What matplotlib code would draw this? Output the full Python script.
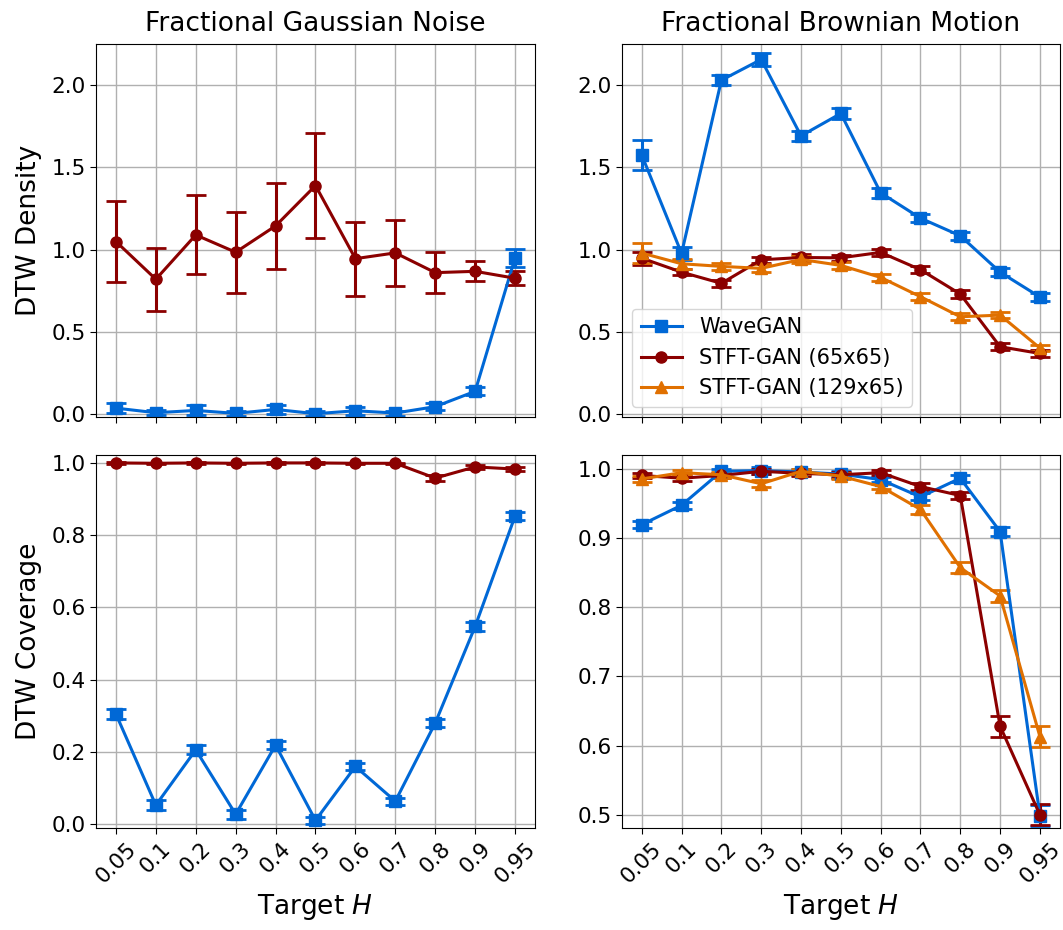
import numpy as np
import matplotlib
matplotlib.use("Agg")
import matplotlib.pyplot as plt
from matplotlib.lines import Line2D

# Target Hurst exponents (categorical x axis)
h_labels = ["0.05", "0.1", "0.2", "0.3", "0.4", "0.5", "0.6", "0.7", "0.8", "0.9", "0.95"]

# --- Fractional Gaussian Noise: DTW density ---
fgn_density_wavegan = [0.038, 0.010, 0.024, 0.006, 0.030, 0.004, 0.022, 0.008, 0.047, 0.140, 0.950]
fgn_density_wavegan_err = [0.030, 0.015, 0.030, 0.015, 0.030, 0.015, 0.025, 0.015, 0.020, 0.025, 0.053]
fgn_density_stft65 = [1.050, 0.821, 1.090, 0.985, 1.145, 1.390, 0.946, 0.981, 0.861, 0.869, 0.827]
fgn_density_stft65_err = [0.245, 0.190, 0.240, 0.245, 0.260, 0.320, 0.225, 0.200, 0.125, 0.060, 0.042]

# --- Fractional Brownian Motion: DTW density ---
fbm_density_wavegan = [1.575, 0.978, 2.030, 2.156, 1.692, 1.828, 1.346, 1.192, 1.085, 0.864, 0.713]
fbm_density_wavegan_err = [0.092, 0.040, 0.030, 0.040, 0.030, 0.035, 0.030, 0.025, 0.025, 0.025, 0.025]
fbm_density_stft65 = [0.949, 0.864, 0.796, 0.939, 0.953, 0.951, 0.984, 0.879, 0.731, 0.411, 0.370]
fbm_density_stft65_err = [0.040, 0.020, 0.020, 0.020, 0.020, 0.020, 0.020, 0.020, 0.025, 0.020, 0.020]
fbm_density_stft129 = [0.980, 0.915, 0.899, 0.887, 0.941, 0.905, 0.832, 0.715, 0.593, 0.603, 0.403]
fbm_density_stft129_err = [0.060, 0.030, 0.020, 0.025, 0.020, 0.020, 0.020, 0.020, 0.020, 0.020, 0.020]

# --- Fractional Gaussian Noise: DTW coverage ---
fgn_coverage_wavegan = [0.305, 0.053, 0.206, 0.028, 0.219, 0.011, 0.160, 0.064, 0.280, 0.547, 0.852]
fgn_coverage_wavegan_err = [0.015, 0.013, 0.012, 0.012, 0.012, 0.010, 0.010, 0.010, 0.012, 0.012, 0.012]
fgn_coverage_stft65 = [0.999, 0.998, 0.999, 0.998, 0.999, 0.999, 0.998, 0.998, 0.957, 0.988, 0.982]
fgn_coverage_stft65_err = [0.002, 0.002, 0.002, 0.002, 0.002, 0.002, 0.002, 0.002, 0.008, 0.005, 0.005]

# --- Fractional Brownian Motion: DTW coverage ---
fbm_coverage_wavegan = [0.919, 0.947, 0.996, 0.997, 0.995, 0.992, 0.984, 0.959, 0.986, 0.909, 0.499]
fbm_coverage_wavegan_err = [0.005, 0.005, 0.004, 0.005, 0.004, 0.004, 0.004, 0.005, 0.005, 0.007, 0.015]
fbm_coverage_stft65 = [0.990, 0.986, 0.990, 0.996, 0.993, 0.991, 0.994, 0.974, 0.961, 0.628, 0.500]
fbm_coverage_stft65_err = [0.004, 0.004, 0.004, 0.004, 0.004, 0.004, 0.004, 0.005, 0.005, 0.015, 0.015]
fbm_coverage_stft129 = [0.985, 0.994, 0.991, 0.978, 0.996, 0.989, 0.974, 0.941, 0.857, 0.816, 0.613]
fbm_coverage_stft129_err = [0.004, 0.004, 0.004, 0.005, 0.004, 0.004, 0.004, 0.006, 0.008, 0.008, 0.015]

series_names = ["WaveGAN", "STFT-GAN (65x65)", "STFT-GAN (129x65)"]
colors = ["#0068d6", "#8b0000", "#e07000"]
markers = ["s", "o", "^"]

plt.rcParams["font.family"] = "DejaVu Sans"

fig = plt.figure(figsize=(10.63, 9.3), dpi=100)
ax_tl = fig.add_axes([0.0903, 0.5516, 0.413, 0.4011])
ax_tr = fig.add_axes([0.585, 0.5516, 0.412, 0.4011])
ax_bl = fig.add_axes([0.0903, 0.1097, 0.413, 0.4011])
ax_br = fig.add_axes([0.585, 0.1097, 0.412, 0.4011])

x = np.arange(len(h_labels))

LW = 2.2
MS = 8


def draw(ax, ys, errs, idxs):
    for y, e, i in zip(ys, errs, idxs):
        ax.errorbar(x, y, yerr=e, color=colors[i], marker=markers[i],
                    markersize=MS, linewidth=LW, elinewidth=LW,
                    capsize=7, capthick=2, label=series_names[i])
    ax.grid(True, color="#b0b0b0", linewidth=1.0)
    ax.set_axisbelow(True)
    ax.set_xlim(-0.5, 10.5)
    ax.set_xticks(x)
    ax.tick_params(labelsize=15.5, length=4)


draw(ax_tl, [fgn_density_wavegan, fgn_density_stft65],
     [fgn_density_wavegan_err, fgn_density_stft65_err], [0, 1])
draw(ax_tr, [fbm_density_wavegan, fbm_density_stft65, fbm_density_stft129],
     [fbm_density_wavegan_err, fbm_density_stft65_err, fbm_density_stft129_err], [0, 1, 2])
draw(ax_bl, [fgn_coverage_wavegan, fgn_coverage_stft65],
     [fgn_coverage_wavegan_err, fgn_coverage_stft65_err], [0, 1])
draw(ax_br, [fbm_coverage_wavegan, fbm_coverage_stft65, fbm_coverage_stft129],
     [fbm_coverage_wavegan_err, fbm_coverage_stft65_err, fbm_coverage_stft129_err], [0, 1, 2])

for ax in (ax_tl, ax_tr):
    ax.set_ylim(-0.016, 2.25)
    ax.set_yticks([0.0, 0.5, 1.0, 1.5, 2.0])
    ax.tick_params(labelbottom=False)

ax_bl.set_ylim(-0.01, 1.021)
ax_bl.set_yticks([0.0, 0.2, 0.4, 0.6, 0.8, 1.0])
ax_br.set_ylim(0.481, 1.0196)
ax_br.set_yticks([0.5, 0.6, 0.7, 0.8, 0.9, 1.0])

for ax in (ax_bl, ax_br):
    ax.set_xticklabels(h_labels, rotation=45)
    ax.set_xlabel("Target $H$", fontsize=19)

ax_tl.set_title("Fractional Gaussian Noise", fontsize=19, pad=9)
ax_tr.set_title("Fractional Brownian Motion", fontsize=19, pad=9)
ax_tl.set_ylabel("DTW Density", fontsize=19, labelpad=7)
ax_bl.set_ylabel("DTW Coverage", fontsize=19, labelpad=7)

legend_handles = [Line2D([], [], color=colors[i], marker=markers[i],
                         markersize=MS, linewidth=LW, label=series_names[i])
                  for i in range(3)]
ax_tr.legend(handles=legend_handles, loc="lower left", fontsize=15, framealpha=0.8)

fig.savefig("out.png", dpi=100)
